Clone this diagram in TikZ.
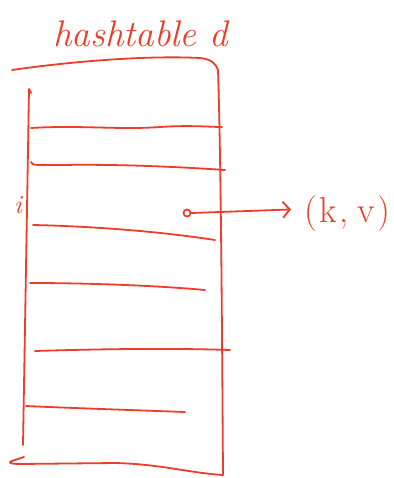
\documentclass[tikz,border=0pt]{standalone}
\usetikzlibrary{arrows.meta}
\definecolor{pen}{RGB}{236,62,40}
\begin{document}
\begin{tikzpicture}[x=1pt,y=-1pt,
  ink/.style={draw=pen,line width=1.8pt,line cap=round,line join=round},
  hand/.style={text=pen,font=\fontsize{#1}{#1}\selectfont\itshape,inner sep=0pt},
]
\useasboundingbox[fill=white] (0,0) rectangle (393,478);
% title
\node[hand=37,anchor=base west] (title) at (53,47) {hashtable d};
% frame
\draw[ink] (12,70) .. controls (60,63) and (140,55) .. (200,58) .. controls (210,59) and (216,63) .. (218,70)
  .. controls (221,160) and (222,330) .. (223,475)
  .. controls (190,473) and (160,464) .. (115,463) -- (20,464) .. controls (9,464) and (8,462) .. (12,461) -- (24,457);
\draw[ink] (31,93) -- (29,89) -- (28,150) -- (23,445);
% rows
\draw[ink] (31,128) .. controls (80,125) and (120,130) .. (160,127) .. controls (190,125) and (210,127) .. (222,127);
\draw[ink] (31,162) .. controls (31,166) and (40,165) .. (60,165) .. controls (120,164) and (180,167) .. (225,170);
\draw[ink] (33,225) .. controls (80,226) and (150,230) .. (215,240);
\draw[ink] (30,283) .. controls (80,283) and (150,285) .. (205,290);
\draw[ink] (35,351) .. controls (100,349) and (170,348) .. (230,350);
\draw[ink] (26,406) .. controls (70,408) and (130,410) .. (185,412);
% index label
\node[hand=26] (i) at (18,205) {i};
% pointer
\node[ink,circle,inner sep=0pt,minimum size=7pt] (o) at (187,213) {};
\node[text=pen,font=\fontsize{36}{36}\selectfont,inner sep=0pt,anchor=west] (kv) at (304,214) {(\kern3pt k\kern2pt,\kern9pt v\kern3pt)};
\draw[ink,shorten >=13pt,-{Straight Barb[length=7pt,width=16pt,line width=1.8pt]}] (o.east) -- ([yshift=5pt]kv.west);
\end{tikzpicture}
\end{document}
